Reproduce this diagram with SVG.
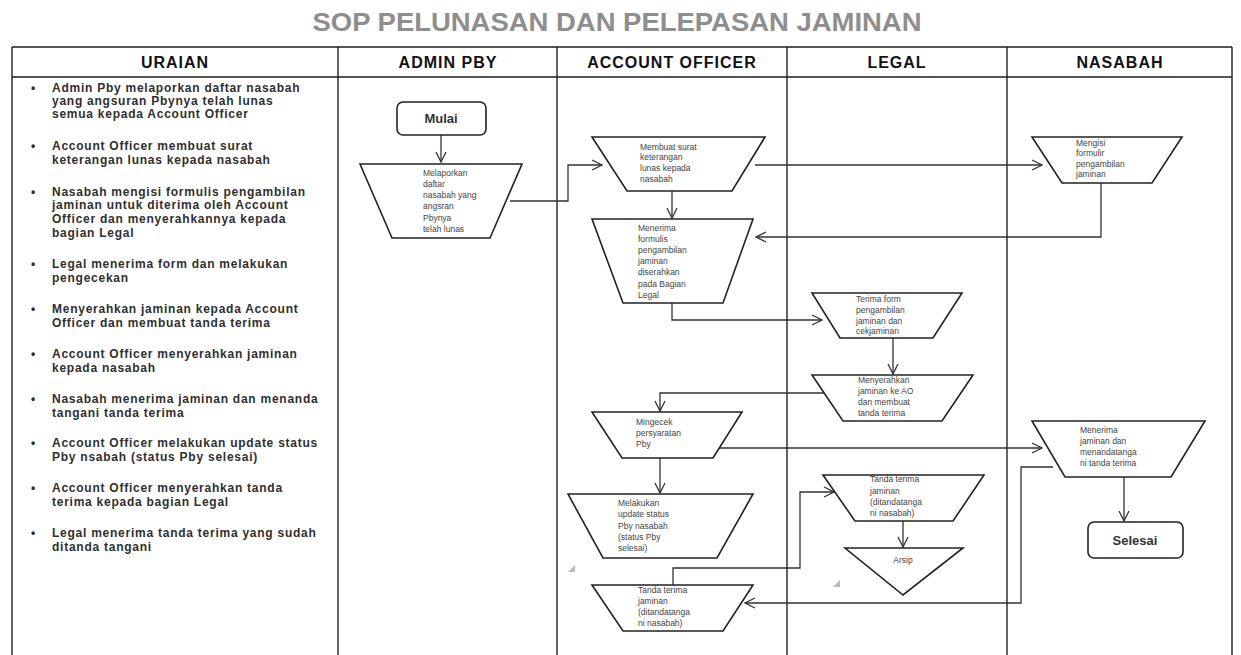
<svg xmlns="http://www.w3.org/2000/svg" width="1241" height="655" viewBox="0 0 1241 655">
<style>
.title{font-family:"Liberation Sans",Arial,sans-serif;font-weight:bold;font-size:25px;fill:#8e8e8e}
.hdr{font-family:"Liberation Sans",Arial,sans-serif;font-weight:bold;font-size:16px;fill:#111;letter-spacing:1px}
.ur{font-family:"Liberation Sans",Arial,sans-serif;font-weight:bold;font-size:12px;fill:#2f2f2f;letter-spacing:0.75px}
.bul{font-family:"Liberation Sans",Arial,sans-serif;font-weight:bold;font-size:12px;fill:#2f2f2f}
.sh{fill:#fff;stroke:#222;stroke-width:1.6}
.nt{font-family:"Liberation Sans",Arial,sans-serif;font-size:8.5px;fill:#444}
.term{font-family:"Liberation Sans",Arial,sans-serif;font-size:13px;font-weight:bold;fill:#333}
.grid{stroke:#222;stroke-width:1.4;fill:none}
.hline{stroke:#555;stroke-width:2.2}
.cn{fill:none;stroke:#333;stroke-width:1.3}
.ghost{fill:#bbb}
</style>
<defs>
<marker id="arr" viewBox="0 0 12 12" refX="11" refY="6" markerWidth="12" markerHeight="12" markerUnits="userSpaceOnUse" orient="auto">
<path d="M1,1 L11,6 L1,11" fill="none" stroke="#333" stroke-width="1.3"/>
</marker>
</defs>
<rect width="1241" height="655" fill="#fff"/>
<text class="title" x="617" y="31" text-anchor="middle" textLength="609" lengthAdjust="spacingAndGlyphs">SOP PELUNASAN DAN PELEPASAN JAMINAN</text>
<g id="table">
<line class="hline" x1="12" y1="47" x2="1232" y2="47"/>
<line class="hline" x1="12" y1="77" x2="1232" y2="77"/>
<line class="grid" x1="12" y1="47" x2="12" y2="655"/>
<line class="grid" x1="338" y1="47" x2="338" y2="655"/>
<line class="grid" x1="557" y1="47" x2="557" y2="655"/>
<line class="grid" x1="787" y1="47" x2="787" y2="655"/>
<line class="grid" x1="1007" y1="47" x2="1007" y2="655"/>
<line class="grid" x1="1232" y1="47" x2="1232" y2="655"/>
<text class="hdr" x="175" y="68" text-anchor="middle">URAIAN</text>
<text class="hdr" x="448" y="68" text-anchor="middle">ADMIN PBY</text>
<text class="hdr" x="672" y="68" text-anchor="middle">ACCOUNT OFFICER</text>
<text class="hdr" x="897" y="68" text-anchor="middle">LEGAL</text>
<text class="hdr" x="1120" y="68" text-anchor="middle">NASABAH</text>
</g>
<g id="uraian">
<text class="bul" x="31" y="92">•</text>
<text class="ur" x="52" y="92">Admin Pby melaporkan daftar nasabah</text>
<text class="ur" x="52" y="105">yang angsuran Pbynya telah lunas</text>
<text class="ur" x="52" y="118">semua kepada Account Officer</text>
<text class="bul" x="31" y="150">•</text>
<text class="ur" x="52" y="150">Account Officer membuat surat</text>
<text class="ur" x="52" y="164">keterangan lunas kepada nasabah</text>
<text class="bul" x="31" y="196">•</text>
<text class="ur" x="52" y="196">Nasabah mengisi formulis pengambilan</text>
<text class="ur" x="52" y="209">jaminan untuk diterima oleh Account</text>
<text class="ur" x="52" y="223">Officer dan menyerahkannya kepada</text>
<text class="ur" x="52" y="237">bagian Legal</text>
<text class="bul" x="31" y="268">•</text>
<text class="ur" x="52" y="268">Legal menerima form dan melakukan</text>
<text class="ur" x="52" y="282">pengecekan</text>
<text class="bul" x="31" y="313">•</text>
<text class="ur" x="52" y="313">Menyerahkan jaminan kepada Account</text>
<text class="ur" x="52" y="327">Officer dan membuat tanda terima</text>
<text class="bul" x="31" y="358">•</text>
<text class="ur" x="52" y="358">Account Officer menyerahkan jaminan</text>
<text class="ur" x="52" y="372">kepada nasabah</text>
<text class="bul" x="31" y="403">•</text>
<text class="ur" x="52" y="403">Nasabah menerima jaminan dan menanda</text>
<text class="ur" x="52" y="417">tangani tanda terima</text>
<text class="bul" x="31" y="447">•</text>
<text class="ur" x="52" y="447">Account Officer melakukan update status</text>
<text class="ur" x="52" y="461">Pby nsabah (status Pby selesai)</text>
<text class="bul" x="31" y="492">•</text>
<text class="ur" x="52" y="492">Account Officer menyerahkan tanda</text>
<text class="ur" x="52" y="506">terima kepada bagian Legal</text>
<text class="bul" x="31" y="537">•</text>
<text class="ur" x="52" y="537">Legal menerima tanda terima yang sudah</text>
<text class="ur" x="52" y="551">ditanda tangani</text>
</g>
<g id="connectors">
<path class="cn" d="M441,135 L441,162" marker-end="url(#arr)"/>
<path class="cn" d="M510,201 L568,201 L568,165 L602,165" marker-end="url(#arr)"/>
<path class="cn" d="M672,191 L672,218" marker-end="url(#arr)"/>
<path class="cn" d="M755,165 L1042,165" marker-end="url(#arr)"/>
<path class="cn" d="M1101,183 L1101,237 L756,237" marker-end="url(#arr)"/>
<path class="cn" d="M672,303 L672,320 L822,320" marker-end="url(#arr)"/>
<path class="cn" d="M893,338 L893,374" marker-end="url(#arr)"/>
<path class="cn" d="M824,393 L660,393 L660,411" marker-end="url(#arr)"/>
<path class="cn" d="M719,448 L1042,448" marker-end="url(#arr)"/>
<path class="cn" d="M660,458 L660,493" marker-end="url(#arr)"/>
<path class="cn" d="M1124,477 L1124,521" marker-end="url(#arr)"/>
<path class="cn" d="M1053,467 L1021,467 L1021,603 L745,603" marker-end="url(#arr)"/>
<path class="cn" d="M673,585 L673,568 L800,568 L800,492 L834,492" marker-end="url(#arr)"/>
<path class="cn" d="M903,521 L903,547" marker-end="url(#arr)"/>
</g>
<g id="mulai">
<rect class="sh" x="397" y="102" width="89" height="33" rx="6"/>
<text class="term" x="441" y="123" text-anchor="middle">Mulai</text>
</g>
<g id="melaporkan">
<polygon class="sh" points="360,164 522,164 490,238 392,238"/>
<text class="nt" x="423" y="176">Melaporkan</text>
<text class="nt" x="423" y="187">daftar</text>
<text class="nt" x="423" y="198">nasabah yang</text>
<text class="nt" x="423" y="209">angsran</text>
<text class="nt" x="423" y="221">Pbynya</text>
<text class="nt" x="423" y="232">telah lunas</text>
</g>
<g id="membuat-surat">
<polygon class="sh" points="592,137 765,137 732,191 627,191"/>
<text class="nt" x="640" y="150">Membuat surat</text>
<text class="nt" x="640" y="160">keterangan</text>
<text class="nt" x="640" y="171">lunas kepada</text>
<text class="nt" x="640" y="182">nasabah</text>
</g>
<g id="menerima-formulis">
<polygon class="sh" points="592,219 753,219 723,303 623,303"/>
<text class="nt" x="638" y="231">Menerima</text>
<text class="nt" x="638" y="242">formulis</text>
<text class="nt" x="638" y="253">pengambilan</text>
<text class="nt" x="638" y="264">jaminan</text>
<text class="nt" x="638" y="275">diserahkan</text>
<text class="nt" x="638" y="287">pada Bagian</text>
<text class="nt" x="638" y="298">Legal</text>
</g>
<g id="mengisi-formulir">
<polygon class="sh" points="1032,137 1182,137 1152,183 1062,183"/>
<text class="nt" x="1076" y="146">Mengisi</text>
<text class="nt" x="1076" y="156">formulir</text>
<text class="nt" x="1076" y="167">pengambilan</text>
<text class="nt" x="1076" y="177">jaminan</text>
</g>
<g id="terima-form">
<polygon class="sh" points="812,293 962,293 933,338 840,338"/>
<text class="nt" x="856" y="302">Terima form</text>
<text class="nt" x="856" y="313">pengambilan</text>
<text class="nt" x="856" y="324">jaminan dan</text>
<text class="nt" x="856" y="334">cekjaminan</text>
</g>
<g id="menyerahkan-jaminan">
<polygon class="sh" points="812,375 973,375 942,421 843,421"/>
<text class="nt" x="858" y="383">Menyerahkan</text>
<text class="nt" x="858" y="394">jaminan ke AO</text>
<text class="nt" x="858" y="405">dan membuat</text>
<text class="nt" x="858" y="416">tanda terima</text>
</g>
<g id="mengecek">
<polygon class="sh" points="592,412 742,412 713,458 622,458"/>
<text class="nt" x="636" y="425">Mingecek</text>
<text class="nt" x="636" y="436">persyaratan</text>
<text class="nt" x="636" y="447">Pby</text>
</g>
<g id="menerima-jaminan">
<polygon class="sh" points="1032,421 1205,421 1171,477 1065,477"/>
<text class="nt" x="1080" y="433">Menerima</text>
<text class="nt" x="1080" y="444">jaminan dan</text>
<text class="nt" x="1080" y="455">menandatanga</text>
<text class="nt" x="1080" y="466">ni tanda terima</text>
</g>
<g id="selesai">
<rect class="sh" x="1088" y="522" width="95" height="36" rx="6"/>
<text class="term" x="1135" y="545" text-anchor="middle">Selesai</text>
</g>
<g id="update-status">
<polygon class="sh" points="568,494 753,494 717,558 603,558"/>
<text class="nt" x="618" y="506">Melakukan</text>
<text class="nt" x="618" y="517">update status</text>
<text class="nt" x="618" y="529">Pby nasabah</text>
<text class="nt" x="618" y="540">(status Pby</text>
<text class="nt" x="618" y="551">selesai)</text>
</g>
<g id="tanda-terima-legal">
<polygon class="sh" points="823,475 984,475 953,521 855,521"/>
<text class="nt" x="870" y="482">Tanda terima</text>
<text class="nt" x="870" y="494">jaminan</text>
<text class="nt" x="870" y="505">(ditandatanga</text>
<text class="nt" x="870" y="516">ni nasabah)</text>
</g>
<g id="arsip">
<polygon class="sh" points="845,548 963,548 903,595"/>
<text class="nt" x="903" y="563" text-anchor="middle">Arsip</text>
</g>
<g id="tanda-terima-ao">
<polygon class="sh" points="592,585 753,585 723,631 623,631"/>
<text class="nt" x="638" y="593">Tanda terima</text>
<text class="nt" x="638" y="604">jaminan</text>
<text class="nt" x="638" y="615">(ditandatanga</text>
<text class="nt" x="638" y="626">ni nasabah)</text>
</g>
<polygon class="ghost" points="575,565 575,572 568,572"/>
<polygon class="ghost" points="840,580 840,587 833,587"/>
</svg>
